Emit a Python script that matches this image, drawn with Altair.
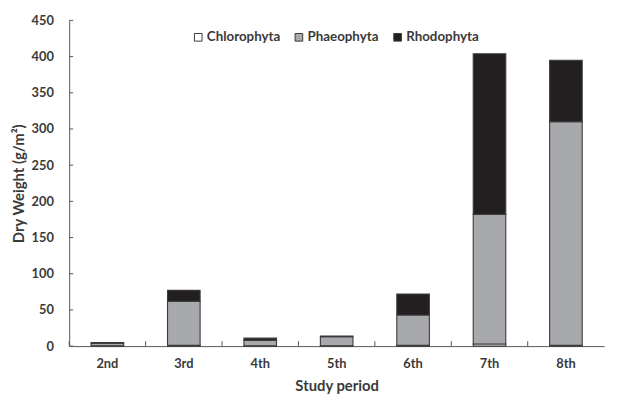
import altair as alt
import pandas as pd

periods = ["2nd", "3rd", "4th", "5th", "6th", "7th", "8th"]
groups = ["Chlorophyta", "Phaeophyta", "Rhodophyta"]
chlorophyta = [0.5, 1, 0.5, 0.5, 1, 3, 1]
phaeophyta = [3.5, 61, 7.5, 12.5, 42, 179, 309]
rhodophyta = [1, 15, 3, 1, 29, 222, 85]
y_ticks = [0, 50, 100, 150, 200, 250, 300, 350, 400, 450]

rows = []
for i, p in enumerate(periods):
    for j, (g, vals) in enumerate(zip(groups, [chlorophyta, phaeophyta, rhodophyta])):
        rows.append({"period": p, "group": g, "value": vals[i], "order": j})
df = pd.DataFrame(rows)

FONT = "Lato"
TXT = "#3a3a3a"
LINE = "#555555"
W, H = 542, 330

x_axis = alt.Axis(labelAngle=0, ticks=False, labelPadding=12, titlePadding=8,
                  labelOverlap=False,
                  domainColor=LINE, labelFont=FONT, labelFontSize=13,
                  labelFontWeight="bold", labelColor=TXT, titleFont=FONT,
                  titleFontSize=15, titleFontWeight="bold", titleColor=TXT)
y_axis = alt.Axis(values=y_ticks, grid=False, ticks=False, labelOverlap=False,
                  domainColor=LINE, labelPadding=16,
                  titlePadding=5, labelFont=FONT, labelFontSize=13,
                  labelFontWeight="bold", labelColor=TXT, titleFont=FONT,
                  titleFontSize=15, titleFontWeight="bold", titleColor=TXT)
x_scale = alt.Scale(paddingInner=0, paddingOuter=0)
y_scale = alt.Scale(domain=[0, 450], nice=False)

bars = alt.Chart(df).mark_bar(stroke="#3a3a3a", strokeWidth=1.1, size=33).encode(
    x=alt.X("period:N", sort=periods, title="Study period", scale=x_scale, axis=x_axis),
    y=alt.Y("value:Q", stack="zero", title="Dry Weight (g/m²)", scale=y_scale, axis=y_axis),
    color=alt.Color("group:N", sort=groups,
                    scale=alt.Scale(domain=groups, range=["#ffffff", "#a8a9ad", "#231f20"]),
                    legend=alt.Legend(title=None, orient="none", direction="horizontal",
                                      legendX=124, legendY=10, symbolType="square",
                                      symbolSize=60, symbolStrokeColor="#3a3a3a",
                                      symbolStrokeWidth=1, labelFont=FONT, labelFontSize=13.5,
                                      labelFontWeight="bold", labelColor=TXT,
                                      columnPadding=12, symbolOffset=0, labelOffset=2)),
    order=alt.Order("order:Q"),
)

x_ticks = alt.Chart(pd.DataFrame({"period": periods})).mark_rule(color=LINE).encode(
    x=alt.X("period:N", sort=periods, bandPosition=0, title="Study period",
            scale=x_scale, axis=x_axis),
    y=alt.value(H),
    y2=alt.value(H - 5),
)

y_tick_marks = alt.Chart(pd.DataFrame({"value": y_ticks})).mark_rule(color=LINE).encode(
    y=alt.Y("value:Q", title="Dry Weight (g/m²)", scale=y_scale, axis=y_axis),
    x=alt.value(0),
    x2=alt.value(4),
)

chart = alt.layer(bars, x_ticks, y_tick_marks).properties(
    width=W, height=H,
    autosize=alt.AutoSizeParams(type="none"),
    padding={"left": 62, "top": 10, "right": 10, "bottom": 50},
).configure_view(stroke=None)

chart.save("out.html", embed_options={"renderer": "svg", "actions": False})
